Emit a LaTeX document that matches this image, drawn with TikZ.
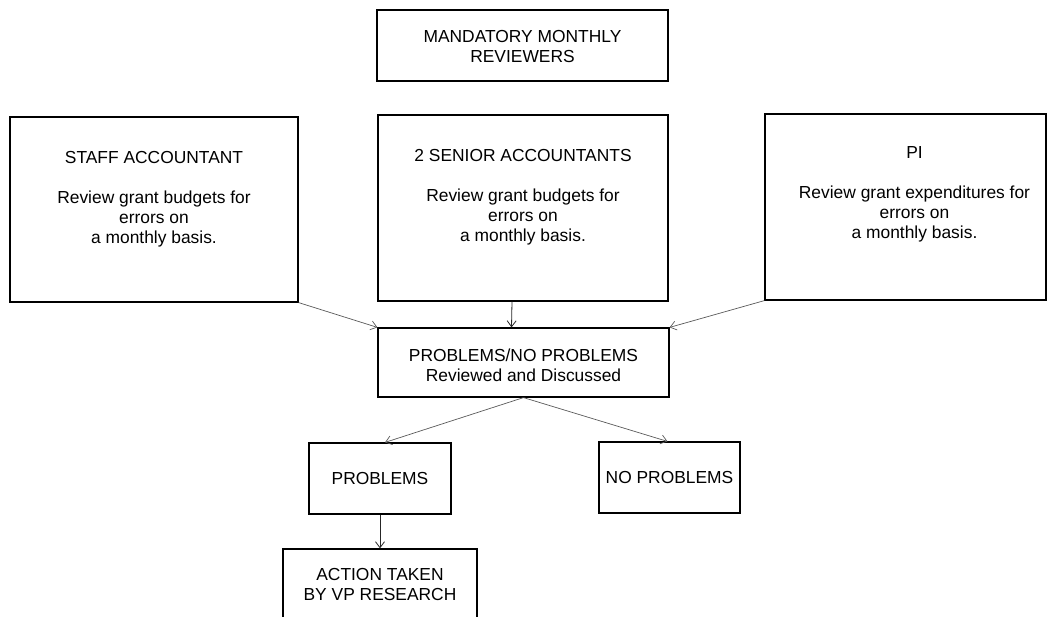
\documentclass[tikz,border=0pt]{standalone}
\usepackage{fontspec}
\setmainfont{Liberation Sans}
\usetikzlibrary{arrows.meta}
\begin{document}
\begin{tikzpicture}[x=1pt,y=-1pt,
  box/.style={draw=black,line width=1.2pt,rectangle,inner sep=0pt},
  txt/.style={align=center,font=\fontsize{17.4}{20}\selectfont,inner sep=0pt},
  conn/.style={draw=black!65,line width=0.7pt,-{Straight Barb[length=6pt,width=9pt]}},
  vconn/.style={draw=black!85,line width=0.8pt,-{Straight Barb[length=6pt,width=9pt]}}]
\useasboundingbox (0,0) rectangle (1047,617);
% boxes
\node[box,minimum width=291,minimum height=71] (top) at (522.5,45.5) {};
\node[txt,yshift=-1] (toptxt) at (top.center) {MANDATORY MONTHLY\\REVIEWERS};
\node[box,minimum width=288,minimum height=185] (staff) at (154,209.5) {};
\node[txt,yshift=10.5] (stafftxt) at (staff.center) {STAFF ACCOUNTANT\\[20pt]Review grant budgets for\\errors on\\a monthly basis.};
\node[box,minimum width=290,minimum height=186] (senior) at (523,208) {};
\node[txt,yshift=10.5] (seniortxt) at (senior.center) {2 SENIOR ACCOUNTANTS\\[20pt]Review grant budgets for\\errors on\\a monthly basis.};
\node[box,minimum width=281,minimum height=186] (pi) at (905.5,207) {};
\node[txt,yshift=12.5,xshift=9] (pitxt) at (pi.center) {PI\\[20pt]Review grant expenditures for\\errors on\\a monthly basis.};
\node[box,minimum width=291,minimum height=69] (mid) at (523.5,362.5) {};
\node[txt,yshift=-2.5] (midtxt) at (mid.center) {PROBLEMS/NO PROBLEMS\\Reviewed and Discussed};
\node[box,minimum width=142,minimum height=71] (prob) at (380,478.5) {};
\node[txt] (probtxt) at (prob.center) {PROBLEMS};
\node[box,minimum width=141,minimum height=71] (nop) at (669.5,477.5) {};
\node[txt] (noptxt) at (nop.center) {NO PROBLEMS};
\node[box,minimum width=194,minimum height=72] (act) at (380,585) {};
\node[txt] (acttxt) at (act.center) {ACTION TAKEN\\BY VP RESEARCH};
% connectors
\draw[conn] (staff.south east) -- (mid.north west);
\draw[vconn] ([xshift=-11]senior.south) -- ([xshift=-12]mid.north);
\draw[conn] (pi.south west) -- (mid.north east);
\draw[conn] (mid.south) -- ([xshift=5]prob.north);
\draw[conn] (mid.south) -- ([xshift=-2]nop.north);
\draw[vconn] (prob.south) -- (act.north);
\end{tikzpicture}
\end{document}
